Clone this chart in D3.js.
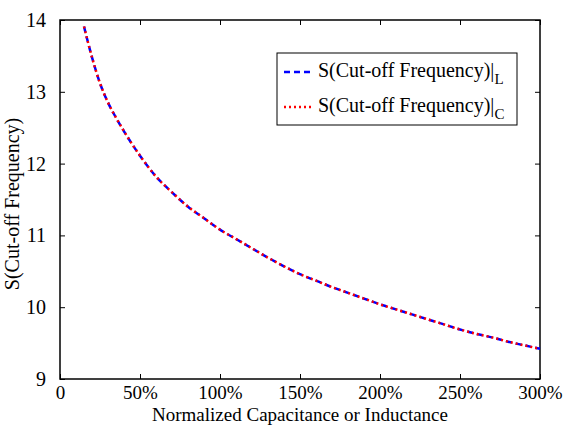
<!DOCTYPE html>
<html>
<head>
<meta charset="utf-8">
<script src="https://cdn.jsdelivr.net/npm/d3@7"></script>
<style>
  body { margin: 0; background: #fff; }
</style>
</head>
<body>
<div id="plot"></div>
<script>
// normalized capacitance or inductance, in percent
var xValues = [15, 20, 25, 30, 35, 40, 50, 60, 70, 80, 90, 100, 110, 120, 130, 140, 150,
  160, 170, 180, 190, 200, 210, 220, 230, 240, 250, 260, 270, 280, 290, 300];
// sensitivity of cut-off frequency with respect to L
var sL = [13.91, 13.48, 13.12, 12.85, 12.64, 12.45, 12.11, 11.82, 11.60, 11.40, 11.24, 11.08,
  10.95, 10.82, 10.69, 10.57, 10.46, 10.37, 10.28, 10.20, 10.12, 10.04, 9.97, 9.90, 9.83,
  9.76, 9.69, 9.63, 9.58, 9.52, 9.47, 9.42];
// sensitivity with respect to C (same curve)
var sC = [13.91, 13.48, 13.12, 12.85, 12.64, 12.45, 12.11, 11.82, 11.60, 11.40, 11.24, 11.08,
  10.95, 10.82, 10.69, 10.57, 10.46, 10.37, 10.28, 10.20, 10.12, 10.04, 9.97, 9.90, 9.83,
  9.76, 9.69, 9.63, 9.58, 9.52, 9.47, 9.42];
var xTicks = [0, 50, 100, 150, 200, 250, 300];
var yTicks = [9, 10, 11, 12, 13, 14];
var seriesNames = ["S(Cut-off Frequency)", "S(Cut-off Frequency)"];
var seriesSubs = ["L", "C"];

var FONT = '"Liberation Serif", "Times New Roman", serif';

var width = 568, height = 426;
var margin = {left: 60, top: 20, right: 28, bottom: 47};
var plotW = width - margin.left - margin.right;
var plotH = height - margin.top - margin.bottom;

var svg = d3.select("#plot").append("svg")
  .attr("width", width)
  .attr("height", height)
  .attr("font-family", FONT);

var x = d3.scaleLinear().domain([0, 300]).range([0, plotW]);
var y = d3.scaleLinear().domain([9, 14]).range([plotH, 0]);

var g = svg.append("g")
  .attr("transform", "translate(" + margin.left + "," + margin.top + ")");

var fmtX = function (d) { return d === 0 ? "0" : d + "%"; };

// axes with inward ticks, box on
var xAxisB = d3.axisBottom(x).tickValues(xTicks).tickSize(-5).tickPadding(7).tickFormat(fmtX);
var xAxisT = d3.axisTop(x).tickValues(xTicks).tickSize(-5).tickFormat("");
var yAxisL = d3.axisLeft(y).tickValues(yTicks).tickSize(-5).tickPadding(14).tickFormat(d3.format("d"));
var yAxisR = d3.axisRight(y).tickValues(yTicks).tickSize(-5).tickFormat("");

function style(sel, size) {
  sel.attr("font-family", FONT).attr("font-size", size);
  sel.select(".domain").remove();
  sel.selectAll("line").attr("stroke", "#000").attr("stroke-width", 1);
}

g.append("g").attr("transform", "translate(0," + plotH + ")").call(xAxisB).call(style, 19);
g.append("g").call(xAxisT).call(style, 20);
g.append("g").call(yAxisL).call(style, 20);
g.append("g").attr("transform", "translate(" + plotW + ",0)").call(yAxisR).call(style, 20);

g.append("rect")
  .attr("width", plotW)
  .attr("height", plotH)
  .attr("fill", "none")
  .attr("stroke", "#000")
  .attr("stroke-width", 1.5);

var line = d3.line()
  .x(function (d) { return x(d[0]); })
  .y(function (d) { return y(d[1]); })
  .curve(d3.curveMonotoneX);

g.append("path")
  .datum(d3.zip(xValues, sL))
  .attr("d", line)
  .attr("fill", "none")
  .attr("stroke", "#0000ff")
  .attr("stroke-width", 2.5)
  .attr("stroke-dasharray", "6,4");

g.append("path")
  .datum(d3.zip(xValues, sC))
  .attr("d", line)
  .attr("fill", "none")
  .attr("stroke", "#ff0000")
  .attr("stroke-width", 2.5)
  .attr("stroke-dasharray", "2,3");

// axis labels
svg.append("text")
  .attr("x", margin.left + plotW / 2)
  .attr("y", 421)
  .attr("text-anchor", "middle")
  .attr("font-size", 19)
  .text("Normalized Capacitance or Inductance");

svg.append("text")
  .attr("transform", "translate(19,204) rotate(-90)")
  .attr("text-anchor", "middle")
  .attr("font-size", 20)
  .text("S(Cut-off Frequency)");

// legend
var legend = svg.append("g").attr("transform", "translate(277,53)");
legend.append("rect")
  .attr("width", 240)
  .attr("height", 72)
  .attr("fill", "#fff")
  .attr("stroke", "#000")
  .attr("stroke-width", 1);

var items = legend.selectAll("g.item")
  .data(seriesNames)
  .enter().append("g")
  .attr("class", "item")
  .attr("transform", function (d, i) { return "translate(0," + (19 + i * 35) + ")"; });

items.append("line")
  .attr("x1", 7).attr("x2", 37)
  .attr("stroke", function (d, i) { return i === 0 ? "#0000ff" : "#ff0000"; })
  .attr("stroke-width", 2.5)
  .attr("stroke-dasharray", function (d, i) { return i === 0 ? "6,4" : "2,3"; });

var lt = items.append("text")
  .attr("x", 41)
  .attr("y", 5)
  .attr("font-size", 20);
lt.append("tspan").text(function (d) { return d + "|"; });
lt.append("tspan")
  .attr("dy", 7)
  .attr("font-size", 15)
  .text(function (d, i) { return seriesSubs[i]; });
</script>
</body>
</html>
